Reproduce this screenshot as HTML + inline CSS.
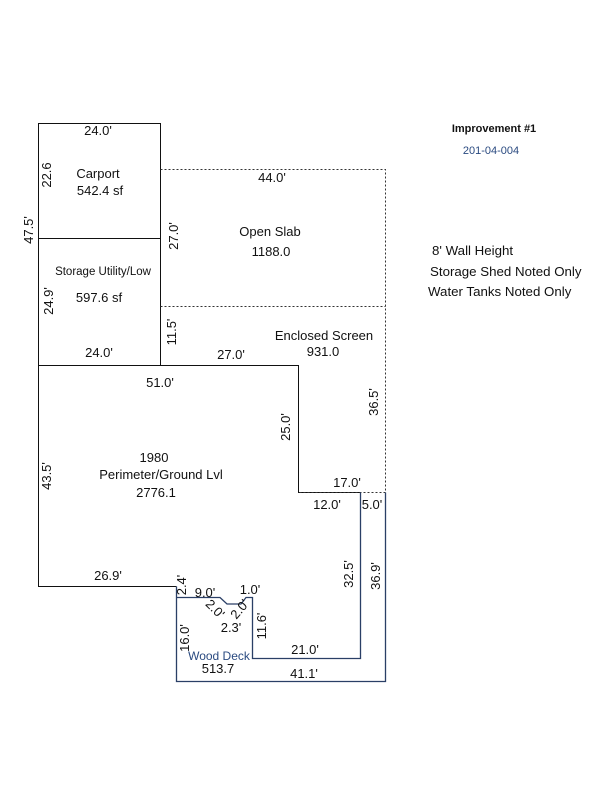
<!DOCTYPE html>
<html><head><meta charset="utf-8"><style>
html,body{margin:0;padding:0;background:#fff;}
svg{display:block;}
text{font-family:"Liberation Sans",Arial,sans-serif;font-size:13px;fill:#111;}
</style></head><body>
<svg width="600" height="800" viewBox="0 0 600 800" xmlns="http://www.w3.org/2000/svg">
<g fill="none" stroke="#111" stroke-width="1">
<rect x="38.5" y="123.5" width="122" height="115"/>
<rect x="38.5" y="238.5" width="122" height="127"/>
<path d="M38.5 365.5 H298.5 V492.5 H360.5"/>
<path d="M38.5 365.5 V586.5 H176.5"/>
</g>
<g fill="none" stroke="#333" stroke-width="1" stroke-dasharray="2,2">
<path d="M160.5 169.5 H385.5 V492.5 H298.5"/>
<path d="M160.5 306.5 H385.5"/>
</g>
<g fill="none" stroke="#2a3f66" stroke-width="1.3">
<path d="M176.5 586.5 V681.5 H385.5 V492.5"/>
<path d="M176.5 597.5 H220 L227 604 H241 L246 597.5 H252.5 V658.5 H360.5 V492.5"/>
</g>
<text x="98" y="135" text-anchor="middle">24.0'</text>
<text x="98" y="178" text-anchor="middle">Carport</text>
<text x="100" y="195" text-anchor="middle">542.4 sf</text>
<text x="103" y="275" text-anchor="middle" style="font-size:11.5px">Storage Utility/Low</text>
<text x="99" y="302" text-anchor="middle">597.6 sf</text>
<text x="99" y="357" text-anchor="middle">24.0'</text>
<text x="272" y="182" text-anchor="middle">44.0'</text>
<text x="270" y="236" text-anchor="middle">Open Slab</text>
<text x="271" y="256" text-anchor="middle">1188.0</text>
<text x="324" y="340" text-anchor="middle">Enclosed Screen</text>
<text x="323" y="356" text-anchor="middle">931.0</text>
<text x="231" y="359" text-anchor="middle">27.0'</text>
<text x="160" y="387" text-anchor="middle">51.0'</text>
<text x="154" y="462" text-anchor="middle">1980</text>
<text x="161" y="479" text-anchor="middle">Perimeter/Ground Lvl</text>
<text x="156" y="497" text-anchor="middle">2776.1</text>
<text x="347" y="487" text-anchor="middle">17.0'</text>
<text x="327" y="509" text-anchor="middle">12.0'</text>
<text x="372" y="509" text-anchor="middle">5.0'</text>
<text x="108" y="580" text-anchor="middle">26.9'</text>
<text x="205" y="597" text-anchor="middle">9.0'</text>
<text x="250" y="594" text-anchor="middle">1.0'</text>
<text x="231" y="632" text-anchor="middle">2.3'</text>
<text x="305" y="654" text-anchor="middle">21.0'</text>
<text x="304" y="678" text-anchor="middle">41.1'</text>
<text x="219" y="660" text-anchor="middle" style="fill:#2a4a80;font-size:12px">Wood Deck</text>
<text x="218" y="673" text-anchor="middle">513.7</text>
<text transform="translate(51,175) rotate(-90)" text-anchor="middle">22.6</text>
<text transform="translate(33,230) rotate(-90)" text-anchor="middle">47.5'</text>
<text transform="translate(53,301) rotate(-90)" text-anchor="middle">24.9'</text>
<text transform="translate(178,236) rotate(-90)" text-anchor="middle">27.0'</text>
<text transform="translate(176,332) rotate(-90)" text-anchor="middle">11.5'</text>
<text transform="translate(378,402) rotate(-90)" text-anchor="middle">36.5'</text>
<text transform="translate(290,427) rotate(-90)" text-anchor="middle">25.0'</text>
<text transform="translate(51,476) rotate(-90)" text-anchor="middle">43.5'</text>
<text transform="translate(353,574) rotate(-90)" text-anchor="middle">32.5'</text>
<text transform="translate(380,576) rotate(-90)" text-anchor="middle">36.9'</text>
<text transform="translate(186,585) rotate(-90)" text-anchor="middle">2.4'</text>
<text transform="translate(189,638) rotate(-90)" text-anchor="middle">16.0'</text>
<text transform="translate(266,626) rotate(-90)" text-anchor="middle">11.6'</text>
<text transform="translate(212,612) rotate(45)" text-anchor="middle">2.0'</text>
<text transform="translate(243,612) rotate(-50)" text-anchor="middle">2.0'</text>
<text x="494" y="132" text-anchor="middle" style="font-size:11px;font-weight:bold">Improvement #1</text>
<text x="491" y="154" text-anchor="middle" style="font-size:11px;fill:#2a4a80">201-04-004</text>
<text x="432" y="255" style="font-size:13.3px">8' Wall Height</text>
<text x="430" y="276" style="font-size:13.3px">Storage Shed Noted Only</text>
<text x="428" y="296" style="font-size:13.3px">Water Tanks Noted Only</text>
</svg>
</body></html>
